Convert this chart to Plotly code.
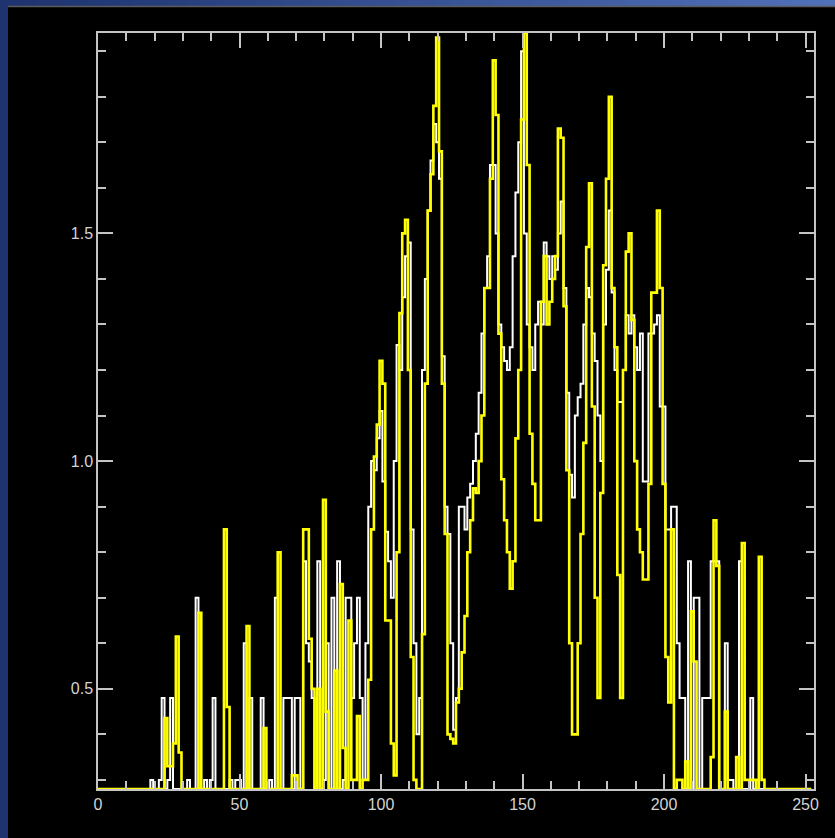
import plotly.graph_objects as go

B = 0.28  # empty bin level (bottom of the value range)

bins = list(range(253))

white = [
    B, B, B, B, B, B, B, B, B, B,
    B, B, B, B, B, B, B, B, B, 0.30,
    B, B, 0.30, 0.48, B, 0.30, 0.48, B, B, B,
    B, B, 0.30, B, B, 0.70, B, B, 0.30, B,
    0.30, 0.48, B, B, B, B, B, 0.30, B, 0.30,
    0.30, B, 0.60, B, 0.48, B, B, B, 0.48, B,
    B, 0.30, B, 0.70, B, B, 0.48, 0.48, 0.48, B,
    0.48, 0.48, B, 0.78, 0.60, 0.56, 0.48, B, 0.78, B,
    0.30, 0.60, B, 0.70, B, 0.78, B, 0.30, 0.70, 0.70,
    0.48, 0.60, 0.70, 0.48, 0.30, 0.60, 0.90, 1.00, 0.98, 1.05,
    1.11, 0.955, 0.845, 0.78, 0.70, 1.00, 1.255, 1.20, 1.36, 1.45,
    1.48, 0.85, 0.60, 0.40, 0.48, 1.20, 1.40, 1.55, 1.66, 1.74,
    1.70, 1.62, 1.23, 0.90, 0.84, 0.60, 0.41, 0.48, 0.90, 0.90,
    0.85, 0.92, 0.95, 1.00, 1.06, 1.15, 1.28, 1.38, 1.45, 1.65,
    1.65, 1.50, 1.30, 1.25, 1.22, 1.20, 1.25, 1.45, 1.59, 1.70,
    1.90, 1.50, 1.30, 1.25, 1.20, 1.30, 1.35, 1.30, 1.48, 1.45,
    1.40, 1.45, 1.42, 1.50, 1.57, 1.38, 1.15, 0.97, 0.92, 1.10,
    1.14, 1.17, 1.30, 1.38, 1.36, 1.28, 1.22, 1.10, 1.00, 1.30,
    1.42, 1.55, 1.37, 1.20, 1.13, 1.13, 1.20, 1.32, 1.28, 1.32,
    1.25, 1.20, 1.28, 0.955, 0.955, 1.28, 1.28, 1.30, 1.32, 1.12,
    1.12, 0.85, 0.85, 0.90, 0.90, 0.60, 0.48, 0.48, B, 0.78,
    B, 0.70, 0.70, B, 0.48, 0.48, 0.48, 0.78, 0.78, 0.78,
    B, B, 0.60, 0.30, 0.30, B, B, 0.78, B, B,
    B, 0.48, B, 0.30, B, B, B, B, B, B,
    B, B, B, B, B, B, B, B, B, B,
    B, B, B,
]

yellow = [
    B, B, B, B, B, B, B, B, B, B,
    B, B, B, B, B, B, B, B, B, B,
    B, B, B, B, 0.436, 0.33, 0.33, 0.38, 0.615, 0.36,
    B, B, B, B, B, B, 0.667, B, B, B,
    B, B, B, B, B, 0.85, 0.46, B, B, B,
    B, B, B, 0.638, B, B, B, B, B, 0.414,
    B, B, B, B, 0.80, B, B, B, B, 0.31,
    0.31, B, B, 0.85, 0.85, 0.61, 0.50, B, 0.50, B,
    0.915, 0.45, B, B, 0.54, B, 0.73, 0.37, B, 0.65,
    0.30, 0.30, 0.44, B, 0.30, 0.30, 0.52, 0.85, 1.01, 1.08,
    1.22, 1.17, 0.65, 0.65, 0.38, 0.31, 0.80, 1.325, 1.50, 1.53,
    1.20, 0.57, 0.30, B, B, 0.62, 1.17, 1.55, 1.63, 1.78,
    1.93, 1.68, 1.17, 0.84, 0.40, 0.39, 0.38, 0.47, 0.50, 0.58,
    0.66, 0.80, 0.87, 0.94, 0.93, 1.00, 1.10, 1.38, 1.38, 1.62,
    1.88, 1.76, 1.28, 0.96, 0.87, 0.80, 0.72, 0.78, 1.05, 1.20,
    1.75, 1.94, 1.65, 1.06, 0.95, 0.87, 0.87, 1.35, 1.45, 1.30,
    1.35, 1.40, 1.45, 1.73, 1.71, 1.34, 0.98, 0.60, 0.40, 0.40,
    0.60, 0.84, 1.04, 1.47, 1.61, 1.12, 0.70, 0.48, 0.93, 1.43,
    1.62, 1.80, 1.38, 1.25, 0.75, 0.48, 1.20, 1.46, 1.50, 1.31,
    1.00, 0.85, 0.80, 0.74, 0.74, 0.95, 1.37, 1.37, 1.55, 1.38,
    0.95, 0.57, 0.47, 0.85, B, 0.30, 0.30, B, 0.34, B,
    0.67, 0.56, B, B, B, B, B, 0.35, 0.87, 0.77,
    B, B, 0.45, B, B, B, 0.35, B, 0.82, 0.30,
    0.30, 0.30, 0.30, B, 0.79, 0.30, B, B, B, B,
    B, B, B, B, B, B, B, B, B, B,
    B, B, B,
]

x_range = [0, 253]
y_range = [B, 1.94]

W, H = 835, 838
ML, MR, MT, MB = 98, 21, 33, 49
PW, PH = W - ML - MR, H - MT - MB


def fx(px):
    return (px - ML) / PW


def fy(py):
    return 1 - (py - MT) / PH


fig = go.Figure()
fig.add_trace(go.Scatter(x=bins, y=white, mode="lines",
                         line=dict(color="#ffffff", width=2.0, shape="hvh"),
                         hoverinfo="skip"))
fig.add_trace(go.Scatter(x=bins, y=yellow, mode="lines",
                         line=dict(color="#ffff00", width=2.6, shape="hvh"),
                         hoverinfo="skip"))

# slide frame: dark left band and a blue gradient band along the top
shapes = [dict(type="rect", xref="paper", yref="paper",
               x0=fx(0), x1=fx(8), y0=fy(H), y1=fy(0),
               fillcolor="#1e336f", line_width=0, layer="above")]
n = 60
c0, c1 = (30, 51, 111), (80, 112, 184)
for i in range(n):
    t = i / (n - 1)
    col = "rgb({},{},{})".format(*[round(a + (b - a) * t) for a, b in zip(c0, c1)])
    shapes.append(dict(type="rect", xref="paper", yref="paper",
                       x0=fx(8 + (W - 8) * i / n), x1=fx(8 + (W - 8) * (i + 1) / n) + 0.002,
                       y0=fy(6), y1=fy(0), fillcolor=col, line_width=0, layer="above"))
shapes.append(dict(type="rect", xref="paper", yref="paper",
                   x0=fx(8), x1=fx(W), y0=fy(7.3), y1=fy(5.7),
                   fillcolor="#5c5c5c", line_width=0, layer="above"))

axis_col = "#c4c4c4"
font = dict(family="Liberation Sans", size=16, color="#d4d4d4")

fig.update_layout(
    width=W, height=H,
    margin=dict(l=ML, r=MR, t=MT, b=MB, pad=0),
    paper_bgcolor="#000000", plot_bgcolor="#000000",
    showlegend=False,
    shapes=shapes,
    xaxis=dict(range=x_range, tick0=0, dtick=50, ticks="inside", ticklen=15,
               tickwidth=1.5, tickcolor=axis_col, showline=True, linecolor=axis_col,
               linewidth=1.5, mirror="allticks", showgrid=False, zeroline=False,
               tickfont=font,
               minor=dict(dtick=10, tick0=0, ticks="inside", ticklen=8,
                          tickwidth=1.5, tickcolor=axis_col, showgrid=False)),
    yaxis=dict(range=y_range, tick0=0.5, dtick=0.5, tickformat=".1f", ticks="inside",
               ticklen=15, tickwidth=1.5, tickcolor=axis_col, showline=True,
               linecolor=axis_col, linewidth=1.5, mirror="allticks", showgrid=False,
               zeroline=False, tickfont=font,
               minor=dict(dtick=0.1, tick0=0, ticks="inside", ticklen=8,
                          tickwidth=1.5, tickcolor=axis_col, showgrid=False)),
)

fig.write_html("out.html")
